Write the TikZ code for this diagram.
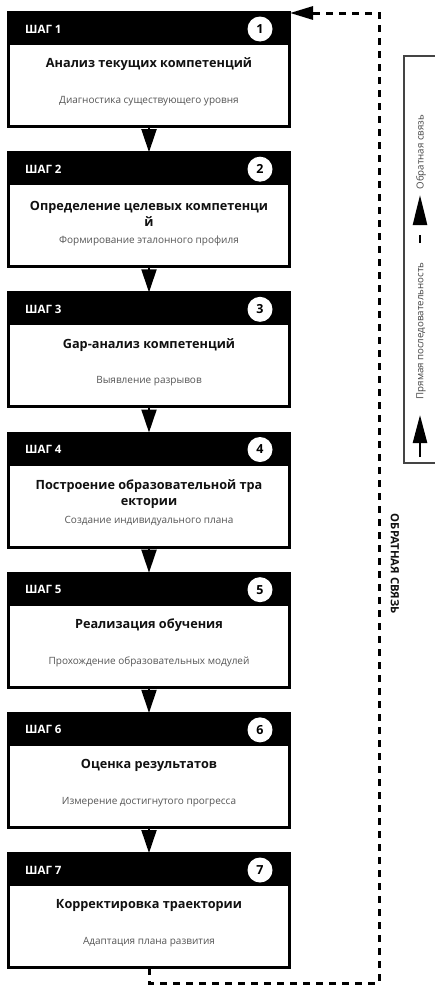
\documentclass[tikz,border=0pt]{standalone}
\usepackage{fontspec}
\setmainfont{Open Sans}
\usetikzlibrary{arrows.meta}
\definecolor{subgray}{HTML}{555555}
\definecolor{darktext}{HTML}{111111}
\definecolor{leggray}{HTML}{444444}
\tikzset{
  stepbody/.style={draw=black, line width=2pt, fill=white, minimum width=280pt, minimum height=113pt, inner sep=0pt, anchor=north},
  steptitle/.style={font=\bfseries\fontsize{12.7}{16.5}\selectfont, text=darktext, align=center, inner sep=0pt},
  stepsub/.style={font=\fontsize{10}{12}\selectfont, text=subgray, inner sep=0pt},
  steplabel/.style={font=\bfseries\fontsize{11.5}{13}\selectfont, text=white, anchor=west, inner sep=0pt},
  numcircle/.style={circle, fill=white, minimum size=25pt, inner sep=0pt, font=\bfseries\fontsize{12.5}{14}\selectfont, text=black},
  flowarrow/.style={line width=2pt, -{Triangle[width=15pt,length=23pt]}},
  fbline/.style={line width=3pt, dash pattern=on 7pt off 6pt, -{Triangle[width=13pt,length=23pt]}},
  legbox/.style={draw=leggray, line width=1.5pt},
  legtext/.style={font=\fontsize{9.7}{11}\selectfont, text=leggray, rotate=90, inner sep=0pt},
  legsolid/.style={line width=2.5pt, -{Triangle[width=14pt,length=28pt]}},
  legdashed/.style={line width=2.5pt, dash pattern=on 8pt off 10pt, -{Triangle[width=14pt,length=30pt]}},
  fblabel/.style={font=\bfseries\fontsize{11.3}{13}\selectfont, text=darktext, rotate=-90, inner sep=0pt}
}
\begin{document}
\begin{tikzpicture}[x=1pt,y=-1pt]
\clip (0,0) rectangle (435,985);
\fill[white] (0,0) rectangle (435,985);
\foreach \i/\ty/\t/\s in {
  1/52.5/{Анализ текущих компетенций}/{Диагностика существующего уровня},
  2/61.5/{Определение целевых компетенци\\й}/{Формирование эталонного профиля},
  3/52.5/{Gap-анализ компетенций}/{Выявление разрывов},
  4/61.5/{Построение образовательной тра\\ектории}/{Создание индивидуального плана},
  5/52.5/{Реализация обучения}/{Прохождение образовательных модулей},
  6/52.5/{Оценка результатов}/{Измерение достигнутого прогресса},
  7/52.5/{Корректировка траектории}/{Адаптация плана развития}}{
  \pgfmathsetmacro\tp{12+(\i-1)*140.17}
  \node[stepbody] (b\i) at (149,\tp) {};
  \fill[black] (b\i.north west) rectangle ([yshift=-33pt]b\i.north east);
  \draw[line width=2pt] (b\i.north west) rectangle (b\i.south east);
  \node[steplabel] (l\i) at (25,\tp+17) {ШАГ \i};
  \node[numcircle] (c\i) at (260,\tp+17) {\i};
  \node[steptitle] (t\i) at (149,\tp+\ty) {\t};
  \node[stepsub] (s\i) at (149,\tp+89) {\s};
}
\foreach \i [evaluate=\i as \n using int(\i+1)] in {1,...,6}{
  \draw[flowarrow] (b\i.south) -- (b\n.north);
}
% feedback loop
\coordinate (fb1) at (149,983);
\coordinate (fb2) at (379,983);
\coordinate (fb3) at (379,13);
\coordinate (fbend) at (290,13);
\draw[fbline] (b7.south) -- (fb1) -- (fb2) -- (fb3) -- (fbend);
\node[fblabel] (fbl) at (395,564) {ОБРАТНАЯ СВЯЗЬ};
% legend
\node[legbox, minimum width=50pt, minimum height=407pt, anchor=north west, inner sep=0pt] (leg) at (403,55) {};
\coordinate (ld1) at (420,243);
\coordinate (ld2) at (420,195);
\draw[legdashed] (ld1) -- (ld2);
\node[legtext] (lt1) at (421,152) {Обратная связь};
\coordinate (ls1) at (420,457);
\coordinate (ls2) at (420,415);
\draw[legsolid] (ls1) -- (ls2);
\node[legtext] (lt2) at (421,331) {Прямая последовательность};
\end{tikzpicture}
\end{document}
